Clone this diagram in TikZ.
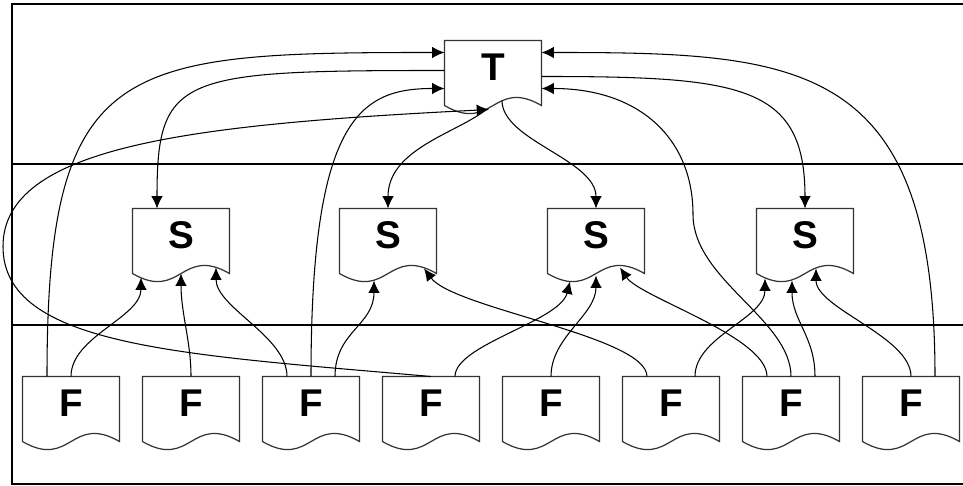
\documentclass[tikz,border=0pt]{standalone}
\usepackage{fontspec}
\setmainfont{Liberation Sans}
\usepackage{tikz}
\usetikzlibrary{calc}
\usetikzlibrary{arrows.meta}

% outline of a document box, drawn round a named node
\newcommand{\docshape}[1]{%
  \draw[docline] (#1.south west) -- (#1.north west) -- (#1.north east) -- (#1.south east)
    .. controls ($(#1.south)+(0,-28)$) and ($(#1.south)+(0,28)$) .. (#1.south west);}

\begin{document}
\begin{tikzpicture}[x=0.02cm,y=-0.02cm,
    >={Latex[length=7pt,width=6.5pt]},
    doc/.style={minimum width=1.92cm,minimum height=1.28cm,inner sep=0pt,
      text height=0.56cm,text depth=0.28cm,font=\fontsize{22}{26}\selectfont\bfseries},
    docline/.style={draw=black!80,line width=0.7pt},
    frame/.style={line width=1.3pt},
    every path/.append style={line width=0.6pt}]

        \useasboundingbox (0,0) rectangle (963,485);

        \draw[frame] (963,4) -- (12,4) -- (12,484) -- (963,484);
        \draw[frame] (12,164) -- (963,164);
        \draw[frame] (12,325) -- (963,325);

        \node[doc] (t) at (493,73) {T};
        \docshape{t}

        \node[doc] (s1) at (181,241) {S};
        \node[doc] (s2) at (388,241) {S};
        \node[doc] (s3) at (596,241) {S};
        \node[doc] (s4) at (805,241) {S};
        \foreach \i in {1,...,4} {\docshape{s\i}}

        \foreach \i in {1,...,8} {
            \node[doc] (f\i) at (71+120*\i-120,409) {F};
            \docshape{f\i}
        }

        % F to T
        \draw[->] ($(f1.north)+(-24,0)$) .. controls +(0,-317) and +(-325,0) .. ($(t.north west)+(0,12)$);
        \draw[->] (f3.north) .. controls +(0,-257) and +(-85,0) .. ($(t.north west)+(0,48)$);
        \draw[->] (f4.north) .. controls +(-250,-22) and +(0,100) .. ($(f4.north)+(-428,-130)$)
            .. controls +(0,-100) and +(-300,15) .. ($(t.south)+(-4,4)$);
        \draw[->] ($(f8.north)+(24,0)$) .. controls +(0,-317) and +(259,0) .. ($(t.north east)+(0,12)$);
        \draw[->] (f7.north) .. controls +(0,-57) and +(0,65) .. ($(f7.north)+(-98,-162)$)
            .. controls +(0,-75) and +(99,0) .. ($(t.north east)+(0,48)$);

        % T to S
        \draw[->] ($(t.north west)+(0,30)$) .. controls +(-265,0) and +(0,-134) .. ($(s1.north)+(-24,0)$);
        \draw[->] ($(t.south)+(-8,5)$) .. controls +(-30,23) and +(0,-59) .. (s2.north);
        \draw[->] ($(t.south)+(9,-5)$) .. controls +(0,40) and +(0,-49) .. (s3.north);
        \draw[->] ($(t.north east)+(0,36)$) .. controls +(199,0) and +(0,-124) .. (s4.north);

        % F to S
        \draw[->] (f1.north) .. controls +(0,-40) and +(0,40) .. ($(s1.south)+(-40,4)$);
        \draw[->] (f2.north) .. controls +(0,-35) and +(0,40) .. (s1.south);
        \draw[->] ($(f3.north)+(-24,0)$) .. controls +(0,-40) and +(0,40) .. ($(s1.south)+(35,-6)$);
        \draw[->] ($(f3.north)+(24,0)$) .. controls +(0,-45) and +(0,45) .. ($(s2.south)+(-14,7)$);
        \draw[->] ($(f6.north)+(-24,0)$) .. controls +(0,-40) and +(30,40) .. ($(s2.south)+(36,-5)$);
        \draw[->] ($(f4.north)+(24,0)$) .. controls +(0,-32) and +(-10,40) .. ($(s3.south)+(-26,8)$);
        \draw[->] (f5.north) .. controls +(0,-40) and +(0,40) .. ($(s3.south)+(0,2)$);
        \draw[->] ($(f7.north)+(-24,0)$) .. controls +(0,-40) and +(20,30) .. ($(s3.south)+(24,-6)$);
        \draw[->] ($(f6.north)+(24,0)$) .. controls +(0,-40) and +(0,40) .. ($(s4.south)+(-40,5)$);
        \draw[->] ($(f7.north)+(24,0)$) .. controls +(0,-40) and +(0,40) .. ($(s4.south)+(-13,7)$);
        \draw[->] (f8.north) .. controls +(0,-40) and +(0,40) .. ($(s4.south)+(11,-5)$);

\end{tikzpicture}
\end{document}
